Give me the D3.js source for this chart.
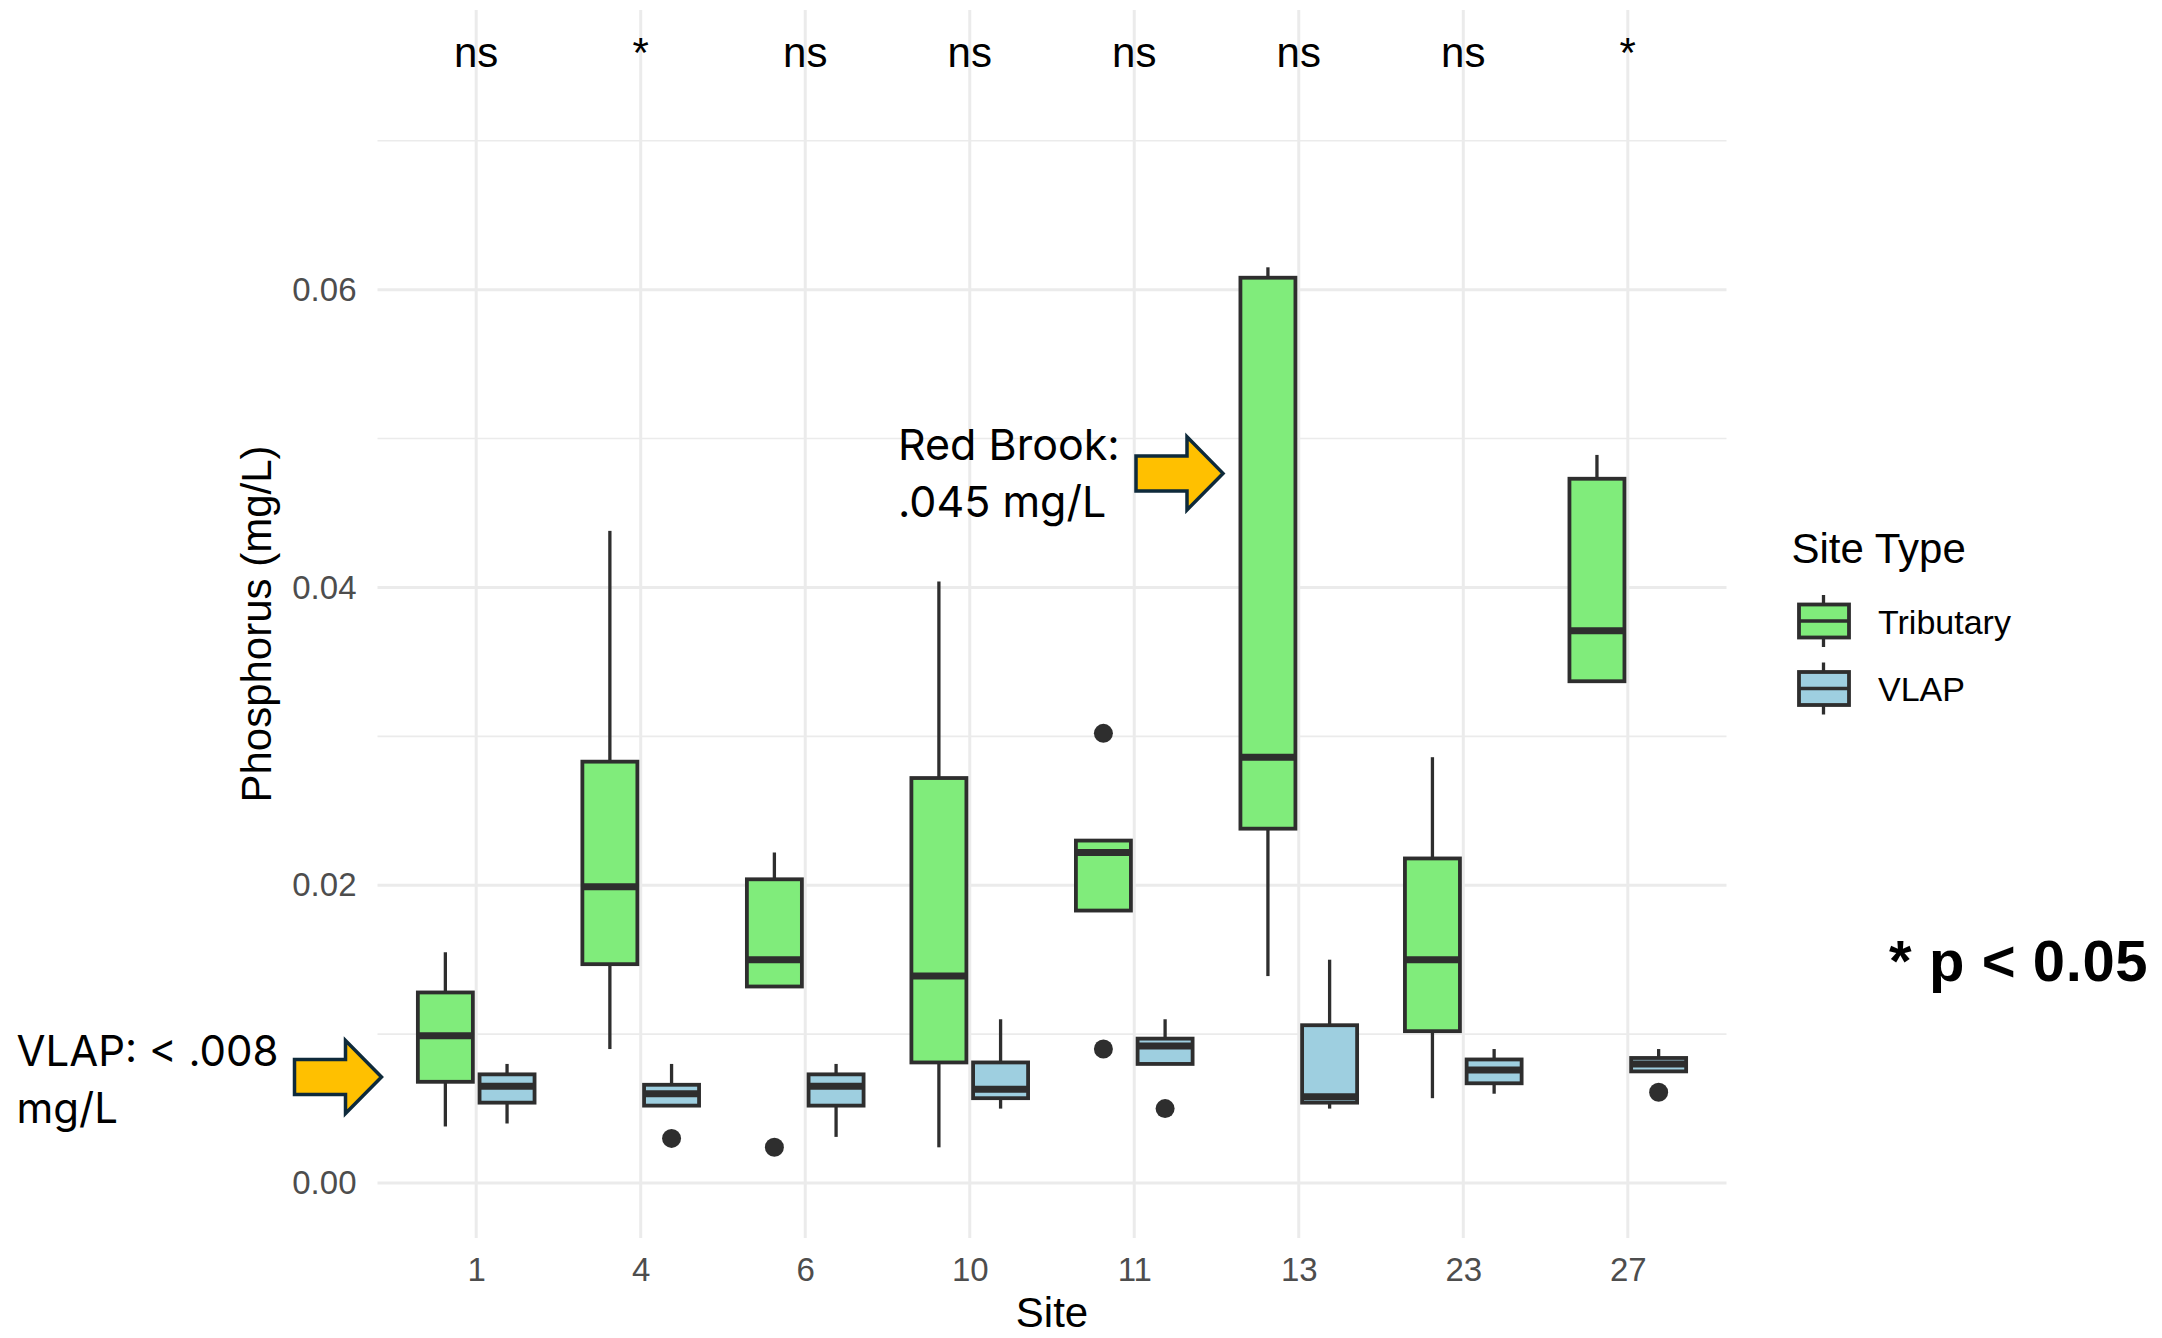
<!DOCTYPE html>
<html>
<head>
<meta charset="utf-8">
<script src="https://cdn.jsdelivr.net/npm/d3@7"></script>
<style>
  html, body { margin: 0; padding: 0; background: #fff; }
  svg { display: block; }
</style>
</head>
<body>
<svg id="chart"></svg>
<script>
// Data =======================================================================

const sites = ["1", "4", "6", "10", "11", "13", "23", "27"];
const siteTypes = ["Tributary", "VLAP"];
const signif = ["ns", "*", "ns", "ns", "ns", "ns", "ns", "*"];

// Tributary box stats, one per site
const tribLow = [0.0038, 0.0090, 0.0132, 0.0024, 0.0183, 0.0139, 0.0057, 0.0337];
const tribQ1 = [0.0068, 0.0147, 0.0132, 0.0081, 0.0183, 0.0238, 0.0102, 0.0337];
const tribMed = [0.0099, 0.0199, 0.0150, 0.0139, 0.0222, 0.0286, 0.0150, 0.0371];
const tribQ3 = [0.0128, 0.0283, 0.0204, 0.0272, 0.0230, 0.0608, 0.0218, 0.0473];
const tribHigh = [0.0155, 0.0438, 0.0222, 0.0404, 0.0230, 0.0615, 0.0286, 0.0489];
const tribOut = [[], [], [0.0024], [], [0.0302, 0.0090], [], [], []];

// VLAP box stats, one per site
const vlapLow = [0.0040, 0.0052, 0.0031, 0.0050, 0.0080, 0.0050, 0.0060, 0.0075];
const vlapQ1 = [0.0054, 0.0052, 0.0052, 0.0057, 0.0080, 0.0054, 0.0067, 0.0075];
const vlapMed = [0.0065, 0.0060, 0.0065, 0.0063, 0.0092, 0.0058, 0.0076, 0.0080];
const vlapQ3 = [0.0073, 0.0066, 0.0073, 0.0081, 0.0097, 0.0106, 0.0083, 0.0084];
const vlapHigh = [0.0080, 0.0080, 0.0080, 0.0110, 0.0110, 0.0150, 0.0090, 0.0090];
const vlapOut = [[], [0.0030], [], [], [0.0050], [], [], [0.0061]];

const yTicks = [0, 0.02, 0.04, 0.06];
const yMinor = [0.01, 0.03, 0.05, 0.07];

// Setup ======================================================================

const width = 2162, height = 1338;
const panel = { left: 377.5, right: 1726.5, top: 10, bottom: 1238 };

const fills = { Tributary: "#80ec7b", VLAP: "#9ecfe0" };
const ink = "#2e2e2e";
const gridColor = "#ebebeb";
const base = "'Liberation Sans', Arial, sans-serif";
const noteFont = "Inter, 'Open Sans', sans-serif";

const svg = d3.select("#chart")
  .attr("width", width)
  .attr("height", height)
  .style("font-family", base);

const x = d3.scalePoint()
  .domain(sites)
  .range([panel.left, panel.right])
  .padding(0.6);

const y = d3.scaleLinear()
  .domain([-0.00369, 0.07878])
  .range([panel.bottom, panel.top]);

const step = x.step();
const dodge = step * 0.1875;
const boxW = 55;

// rows for every box
const boxes = [];
sites.forEach((s, i) => {
  boxes.push({ site: s, type: "Tributary", lo: tribLow[i], q1: tribQ1[i], med: tribMed[i], q3: tribQ3[i], hi: tribHigh[i], out: tribOut[i] });
  boxes.push({ site: s, type: "VLAP", lo: vlapLow[i], q1: vlapQ1[i], med: vlapMed[i], q3: vlapQ3[i], hi: vlapHigh[i], out: vlapOut[i] });
});
const cx = d => x(d.site) + (d.type === "Tributary" ? -dodge : dodge);

// Grid =======================================================================

const grid = svg.append("g");
grid.selectAll(".minor")
  .data(yMinor)
  .enter().append("line")
  .attr("x1", panel.left).attr("x2", panel.right)
  .attr("y1", d => y(d)).attr("y2", d => y(d))
  .attr("stroke", gridColor).attr("stroke-width", 1.6);

grid.selectAll(".major")
  .data(yTicks)
  .enter().append("line")
  .attr("x1", panel.left).attr("x2", panel.right)
  .attr("y1", d => y(d)).attr("y2", d => y(d))
  .attr("stroke", gridColor).attr("stroke-width", 3);

grid.selectAll(".vline")
  .data(sites)
  .enter().append("line")
  .attr("x1", d => x(d)).attr("x2", d => x(d))
  .attr("y1", panel.top).attr("y2", panel.bottom)
  .attr("stroke", gridColor).attr("stroke-width", 3);

// Axes =======================================================================

const yAxis = svg.append("g")
  .attr("transform", `translate(${panel.left},0)`)
  .call(d3.axisLeft(y).tickValues(yTicks).tickSize(0).tickPadding(21).tickFormat(d3.format(".2f")));
yAxis.select(".domain").remove();
yAxis.selectAll("text")
  .attr("font-family", base).attr("font-size", 33).attr("fill", "#4d4d4d");

const xAxis = svg.append("g")
  .attr("transform", `translate(0,${panel.bottom})`)
  .call(d3.axisBottom(x).tickSize(0).tickPadding(20));
xAxis.select(".domain").remove();
xAxis.selectAll("text")
  .attr("font-family", base).attr("font-size", 33).attr("fill", "#4d4d4d");

svg.append("text")
  .attr("transform", `translate(271,${(panel.top + panel.bottom) / 2}) rotate(-90)`)
  .attr("text-anchor", "middle")
  .attr("font-size", 42)
  .attr("fill", "#000")
  .text("Phosphorus (mg/L)");

svg.append("text")
  .attr("x", (panel.left + panel.right) / 2)
  .attr("y", 1327)
  .attr("text-anchor", "middle")
  .attr("font-size", 42)
  .attr("fill", "#000")
  .text("Site");

// Boxplots ===================================================================

const g = svg.append("g");
const box = g.selectAll(".box")
  .data(boxes)
  .enter().append("g");

// whiskers
box.append("line")
  .attr("x1", cx).attr("x2", cx)
  .attr("y1", d => y(d.hi)).attr("y2", d => y(d.q3))
  .attr("stroke", ink).attr("stroke-width", 3.3);
box.append("line")
  .attr("x1", cx).attr("x2", cx)
  .attr("y1", d => y(d.q1)).attr("y2", d => y(d.lo))
  .attr("stroke", ink).attr("stroke-width", 3.3);

box.append("rect")
  .attr("x", d => cx(d) - boxW / 2)
  .attr("width", boxW)
  .attr("y", d => y(d.q3))
  .attr("height", d => y(d.q1) - y(d.q3))
  .attr("fill", d => fills[d.type])
  .attr("stroke", ink).attr("stroke-width", 3.8);

box.append("line")
  .attr("x1", d => cx(d) - boxW / 2).attr("x2", d => cx(d) + boxW / 2)
  .attr("y1", d => y(d.med)).attr("y2", d => y(d.med))
  .attr("stroke", ink).attr("stroke-width", 7);

box.selectAll(".out")
  .data(d => d.out.map(v => ({ v, d })))
  .enter().append("circle")
  .attr("cx", o => cx(o.d))
  .attr("cy", o => y(o.v))
  .attr("r", 9.5)
  .attr("fill", ink);

// Significance labels ========================================================

svg.selectAll(".sig")
  .data(sites)
  .enter().append("text")
  .attr("x", d => x(d))
  .attr("y", 66.7)
  .attr("text-anchor", "middle")
  .attr("font-size", 42)
  .attr("fill", "#000")
  .text((d, i) => signif[i]);

// Legend =====================================================================

const legend = svg.append("g");
legend.append("text")
  .attr("x", 1791.5).attr("y", 563)
  .attr("font-size", 42).attr("fill", "#000")
  .text("Site Type");

const keys = legend.selectAll(".key")
  .data(siteTypes)
  .enter().append("g")
  .attr("transform", (d, i) => `translate(0,${i * 67.5})`);

keys.append("line")
  .attr("x1", 1823.5).attr("x2", 1823.5)
  .attr("y1", 595).attr("y2", 647)
  .attr("stroke", ink).attr("stroke-width", 3.3);
keys.append("rect")
  .attr("x", 1799).attr("y", 604.5)
  .attr("width", 50).attr("height", 33)
  .attr("fill", d => fills[d])
  .attr("stroke", ink).attr("stroke-width", 3.8);
keys.append("line")
  .attr("x1", 1799).attr("x2", 1849)
  .attr("y1", 621).attr("y2", 621)
  .attr("stroke", ink).attr("stroke-width", 3.5);
keys.append("text")
  .attr("x", 1878).attr("y", 633.5)
  .attr("font-size", 34).attr("fill", "#000")
  .text(d => d);

// Annotations ================================================================

svg.append("text")
  .attr("x", 1889).attr("y", 981)
  .attr("font-size", 58).attr("font-weight", "bold").attr("fill", "#000")
  .attr("letter-spacing", 0.6)
  .text("* p < 0.05");

function blockArrow(tipX, tipY) {
  const len = 87, head = 36, shaft = 35, headH = 73;
  const x0 = tipX - len, xb = tipX - head;
  const pts = [
    [x0, tipY - shaft / 2], [xb, tipY - shaft / 2], [xb, tipY - headH / 2],
    [tipX, tipY], [xb, tipY + headH / 2], [xb, tipY + shaft / 2], [x0, tipY + shaft / 2]
  ];
  svg.append("path")
    .attr("d", "M" + pts.join("L") + "Z")
    .attr("fill", "#ffc000")
    .attr("stroke", "#0e2a3b")
    .attr("stroke-width", 3.5)
    .attr("stroke-linejoin", "miter");
}

const notes = [
  { lines: ["VLAP: < .008", "mg/L"], x: 16.5, y: 1066, size: 42, tipX: 381.5, tipV: 0.00712 },
  { lines: ["Red Brook:", ".045 mg/L"], x: 898, y: 460, size: 43, tipX: 1223, tipV: 0.04766 }
];
notes.forEach(n => {
  const t = svg.append("text")
    .attr("font-family", noteFont)
    .attr("font-size", n.size)
    .attr("fill", "#000");
  n.lines.forEach((l, i) => {
    t.append("tspan").attr("x", n.x).attr("y", n.y + i * 57).text(l);
  });
  blockArrow(n.tipX, y(n.tipV));
});
</script>
</body>
</html>
